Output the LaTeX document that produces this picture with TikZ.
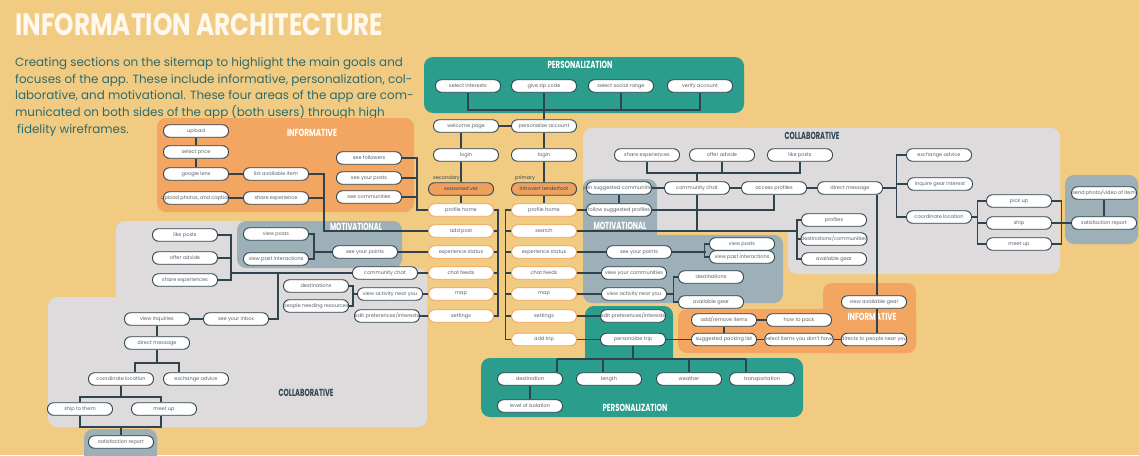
\documentclass[tikz,border=0pt]{standalone}
\usepackage{fontspec}
\setmainfont{Poppins}
\definecolor{fundo}{HTML}{F2CB82}
\definecolor{laranja}{HTML}{F3A562}
\definecolor{laranjano}{HTML}{EFA05E}
\definecolor{bordalar}{HTML}{F0A458}
\definecolor{verde}{HTML}{2A9D8D}
\definecolor{cinza}{HTML}{DDDBDC}
\definecolor{azul}{HTML}{9EB0B7}
\definecolor{linha}{HTML}{2F444F}
\definecolor{textocx}{HTML}{5A5F64}
\definecolor{titulo}{HTML}{FFF8EC}
\definecolor{paragrafo}{HTML}{2D6A6C}
\newcommand{\rotulo}[2]{\resizebox{#1}{7.3pt}{\bfseries #2}}
\begin{document}
\begin{tikzpicture}[x=1pt,y=-1pt,
  caixa/.style={draw=linha, line width=0.9pt, fill=white, rounded corners=6pt,
    minimum width=65pt, minimum height=12.5pt, inner sep=0pt, text=textocx,
    font=\fontsize{5}{6}\selectfont},
  caixalar/.style={caixa, draw=bordalar},
  caixacheia/.style={caixa, fill=laranjano, text=linha},
  painel/.style={rounded corners=9pt}]
	%Fundo
\useasboundingbox (0,0) rectangle (1139,455);
\fill[fundo] (0,0) rectangle (1139,455);
	%Titulo e texto
\node[anchor=south west, inner sep=0pt, text=titulo] (title) at (15,36) {\resizebox{368pt}{22pt}{\bfseries INFORMATION ARCHITECTURE}};
\node[anchor=north west, inner sep=0pt, align=left, text=paragrafo, font=\fontsize{11.9}{16.8}\selectfont] (intro) at (15,57)
  {Creating sections on the sitemap to highlight the main goals and\\
   focuses of the app. These include informative, personalization, col-\\
   laborative, and motivational. These four areas of the app are com-\\
   municated on both sides of the app (both users) through high\\
   \hspace*{2pt}fidelity wireframes.};
	%Paineis
\fill[laranja, painel] (157,118) rectangle (414,212);
\fill[verde, painel] (424,57) rectangle (744,113);
\fill[cinza, painel] (583,128) rectangle (1060,232);
\fill[cinza, painel] (788,128) rectangle (1060,274);
\fill[cinza, painel] (116,221) rectangle (390,427);
\fill[cinza, painel] (116,268) rectangle (427,427);
\fill[cinza, painel] (48,297) rectangle (427,427);
\fill[azul, painel] (237,221) rectangle (402,268);
\fill[azul, painel] (583,179) rectangle (657,250);
\fill[azul, painel] (583,235) rectangle (783,303);
\fill[azul, painel] (1065,175) rectangle (1138,244);
\fill[azul, painel] (84,429) rectangle (157,470);
\fill[verde, painel] (585,306) rectangle (673,370);
\fill[verde, painel] (481,358) rectangle (803,417);
\fill[laranja, painel] (678,309) rectangle (916,353);
\fill[laranja, painel] (823,283) rectangle (916,353);
	%Rotulos
\node[text=white] (infoL) at (312,133) {\rotulo{50pt}{INFORMATIVE}};
\node[text=white] (persT) at (580,65) {\rotulo{65pt}{PERSONALIZATION}};
\node[text=linha] (collR) at (812,136) {\rotulo{55pt}{COLLABORATIVE}};
\node[text=white] (motR) at (620,226) {\rotulo{53pt}{MOTIVATIONAL}};
\node[text=white] (motL) at (356,227) {\rotulo{52pt}{MOTIVATIONAL}};
\node[text=linha] (collL) at (306,393) {\rotulo{55pt}{COLLABORATIVE}};
\node[text=white] (persB) at (635,408) {\rotulo{65pt}{PERSONALIZATION}};
\node[text=white] (infoR) at (872,317) {\rotulo{49pt}{INFORMATIVE}};
\node[anchor=west, inner sep=0pt, text=linha, font=\fontsize{5}{6}\selectfont] (sec) at (433,178.5) {secondary};
\node[anchor=west, inner sep=0pt, text=linha, font=\fontsize{5}{6}\selectfont] (prim) at (515,178.5) {primary};
	%Informativo
\node[caixa] (upl) at (196,131) {upload};
\node[caixa] (price) at (196,152) {select price};
\node[caixa] (lens) at (196,174) {google lens};
\node[caixa] (photos) at (196,198) {\makebox[58pt]{upload photos, and caption}};
\node[caixa] (listitem) at (276,174) {list available item};
\node[caixa] (shareexp) at (276,198) {share experience};
\node[caixa] (followers) at (369,158) {see followers};
\node[caixa] (yourposts) at (369,178) {see your posts};
\node[caixa] (communities) at (369,197) {see communities};
	%Personalizacao
\node[caixa] (interests) at (468,86) {select interests};
\node[caixa] (zip) at (544,86) {give zip code};
\node[caixa] (social) at (621,86) {select social range};
\node[caixa] (verify) at (700,86) {verify account};
\node[caixa] (welcome) at (466,126) {welcome page};
\node[caixa] (persacc) at (544,126) {personalize account};
\node[caixa] (loginS) at (466,155) {login};
\node[caixa] (loginP) at (544,155) {login};
\node[caixacheia] (vet) at (461,189) {seasoned vet};
\node[caixacheia] (tender) at (544,189) {introvert tenderfoot};
	%Colunas
\node[caixalar] (homeS) at (461,210) {profile home};
\node[caixalar] (addpost) at (461,231) {add post};
\node[caixalar] (expS) at (461,252) {experience status};
\node[caixalar] (chatS) at (461,273) {chat feeds};
\node[caixalar] (mapS) at (461,294) {map};
\node[caixalar] (setS) at (461,316) {settings};
\node[caixalar] (homeP) at (544,210) {profile home};
\node[caixalar] (search) at (544,231) {search};
\node[caixalar] (expP) at (544,252) {experience status};
\node[caixalar] (chatP) at (544,273) {chat feeds};
\node[caixalar] (mapP) at (544,294) {map};
\node[caixalar] (setP) at (544,316) {settings};
\node[caixalar] (addtrip) at (544,339.5) {add trip};
	%Colaborativo direita
\node[caixa] (shareexpR) at (647,155) {share experiences};
\node[caixa] (offerR) at (722,155) {offer advide};
\node[caixa] (likeR) at (800,155) {like posts};
\node[caixa] (joincomm) at (619,188) {\makebox[58pt]{join suggested communities}};
\node[caixa] (chatR) at (697,188) {community chat};
\node[caixa] (profacc) at (774,188) {access profiles};
\node[caixa] (dmR) at (850,188) {direct message};
\node[caixa] (followprof) at (619,210) {follow suggested profiles};
\node[caixa] (profiles) at (834,220) {profiles};
\node[caixa] (destcomm) at (834,239) {destinations/communities};
\node[caixa] (gearR) at (834,259) {available gear};
\node[caixa] (exadvR) at (939,155) {exchange advice};
\node[caixa] (inquire) at (940,184) {inquire gear interest};
\node[caixa] (coordR) at (939,217) {coordinate location};
\node[caixa] (pickup) at (1019,201) {pick up};
\node[caixa] (ship) at (1019,223) {ship};
\node[caixa] (meetR) at (1019,244) {meet up};
\node[caixa] (sendphoto) at (1104,193) {send photo/video of item};
\node[caixa] (satisR) at (1104,223) {satisfaction report};
	%Motivacional direita
\node[caixa] (pointsR) at (639,252) {see your points};
\node[caixa] (postsR) at (742,244) {view posts};
\node[caixa] (pastR) at (742,257) {view past interactions};
\node[caixa] (yourcomm) at (634,273) {view your communities};
\node[caixa] (activityR) at (634,294) {view activity near you};
\node[caixa] (destR) at (711,277) {destinations};
\node[caixa] (gearM) at (711,302) {available gear};
	%Personalizacao baixo
\node[caixa] (prefR) at (633,316) {edit preferences/interests};
\node[caixa] (perstrip) at (633,339.5) {personalize trip};
\node[caixa] (dest) at (530,379) {destination};
\node[caixa] (length) at (609,379) {length};
\node[caixa] (weather) at (689,379) {weather};
\node[caixa] (transp) at (762,379) {transportation};
\node[caixa] (isolation) at (530,406) {level of isolation};
	%Informativo direita
\node[caixa] (viewgear) at (874,302) {view available gear};
\node[caixa] (addremove) at (724,320) {add/remove items};
\node[caixa] (howpack) at (799,320) {how to pack};
\node[caixa] (packlist) at (724,339.5) {suggested packing list};
\node[caixa] (selectitems) at (799,339.5) {select items you don't have};
\node[caixa] (directs) at (874,339.5) {directs to people near you};
	%Motivacional esquerda
\node[caixa] (postsL) at (276,234) {view posts};
\node[caixa] (pastL) at (276,259) {view past interactions};
\node[caixa] (pointsL) at (365,252) {see your points};
	%Colaborativo esquerda
\node[caixa] (likeL) at (185,235) {like posts};
\node[caixa] (offerL) at (185,258) {offer advide};
\node[caixa] (shareL) at (185,280) {share experiences};
\node[caixa] (chatL) at (385,273) {community chat};
\node[caixa] (destL) at (316,286) {destinations};
\node[caixa] (needL) at (316,306) {people needing resources};
\node[caixa] (activityL) at (390,294) {view activity near you};
\node[caixa] (prefL) at (387,316) {edit preferences/interests};
\node[caixa] (inquiries) at (157,319) {view inquiries};
\node[caixa] (inbox) at (236,319) {see your inbox};
\node[caixa] (dmL) at (157,343) {direct message};
\node[caixa] (coordL) at (121,379) {coordinate location};
\node[caixa] (exadvL) at (196,379) {exchange advice};
\node[caixa] (shipthem) at (80,409) {ship to them};
\node[caixa] (meetL) at (164,409) {meet up};
\node[caixa] (satisL) at (121,442) {satisfaction report};
	%Pontos das ligacoes
\coordinate (pbus) at (0,110);
\coordinate (cbus) at (0,173);
\coordinate (brk) at (797,0);
\coordinate (dmdrop) at (877,0);
\coordinate (tbus) at (0,359);
\coordinate (lbrk) at (231,0);
\coordinate (ibx) at (278,0);
\coordinate (dbus) at (0,363);
\coordinate (sbus) at (0,397);
	%Ligacoes
\begin{scope}[draw=linha, line width=1.1pt]
\draw (upl) -- (price) -- (lens);
\draw (lens) -- (listitem);
\draw (photos) -- (shareexp);
\draw (listitem.east) -- ++(15,0) |- (addpost.west);
\draw (shareexp.east) -- ++(15,0);
\draw (followers.east) -- ++(15,0) |- (homeS.west);
\draw (yourposts.east) -- ++(15,0);
\draw (communities.east) -- ++(15,0);
\draw (interests.south) |- (verify.south |- pbus) -- (verify.south);
\draw (social) -- (social |- pbus);
\draw (zip) -- (persacc);
\draw (welcome) -- (persacc);
\draw (welcome.south -| vet) -- (loginS.north -| vet);
\draw (loginS.south -| vet) -- (vet);
\draw (vet) -- (homeS);
\draw (persacc) -- (loginP) -- (tender) -- (homeP);
\draw (homeS.east) -- ++(4,0) |- (setS.east);
\foreach \n in {addpost,expS,chatS,mapS} \draw (\n.east) -- ++(4,0);
\draw (homeP.west) -- ++(-6,0) |- (addtrip.west);
\foreach \n in {search,expP,chatP,mapP,setP} \draw (\n.west) -- ++(-6,0);
\draw (pointsL) -- (expS);
\draw (chatL) -- (chatS);
\draw (activityL) -- (mapS);
\draw (prefL) -- (setS);
\draw (homeP) -- (followprof);
\draw (search.east) -- (search.east -| brk);
\draw (expP) -- (pointsR);
\draw (chatP) -- (yourcomm);
\draw (mapP) -- (activityR);
\draw (setP) -- (prefR);
\draw (addtrip) -- (perstrip);
	%colaborativo direita
\draw (shareexpR.south) |- (likeR.south |- cbus) -- (likeR.south);
\draw (offerR) -- (offerR |- cbus);
\draw (chatR) -- (chatR |- cbus);
\draw (joincomm) -- (chatR);
\draw (joincomm) -- (followprof);
\draw (chatR) -- (profacc);
\draw (profacc) -- (dmR);
\draw (profacc.south) |- (followprof.east);
\draw (chatR.south) -- (chatR.south |- search.east);
\draw (profiles.west) -| (brk |- gearR.west) -- (gearR.west);
\draw (destcomm.west) -- (destcomm.west -| brk);
\draw (dmR.east) -- ++(13.5,0);
\draw (exadvR.west) -- ++(-10,0) |- (coordR.west);
\draw (inquire.west) -- ++(-11,0);
\draw (coordR.east) -- ++(6,0);
\draw (pickup.west) -- ++(-8.5,0) |- (meetR.west);
\draw (ship.west) -- ++(-8.5,0);
\draw (pickup.east) -- ++(9.5,0) |- (meetR.east);
\draw (ship) -- (satisR);
\draw (sendphoto) -- (satisR);
\draw (dmR.south -| dmdrop) -- (viewgear.north -| dmdrop);
\draw (viewgear.south -| dmdrop) -- (directs.north -| dmdrop);
	%motivacional direita
\draw (pointsR.east) -- ++(34,0);
\draw (postsR.west) -- ++(-5,0) |- (pastR.west);
\draw (activityR.east) -- ++(7.5,0);
\draw (destR.west) -- ++(-5,0) |- (gearM.west);
	%personalizacao baixo
\draw (perstrip) -- (perstrip |- tbus);
\draw (tbus -| 557,0) -- (tbus -| 746,0);
\foreach \x/\n in {557/dest,603/length,689/weather,746/transp} \draw (tbus -| \x,0) -- (\n.north -| \x,0);
\draw (dest) -- (isolation);
	%informativo direita
\draw (addremove) -- (howpack);
\draw (addremove) -- (packlist);
\draw (perstrip) -- (packlist);
\draw (packlist) -- (selectitems) -- (directs);
	%motivacional esquerda
\draw (postsL.east) -- ++(5,0) |- (pastL.east);
\draw (pointsL.west) -- ++(-19.5,0);
	%colaborativo esquerda
\draw (likeL.east) -| (lbrk |- shareL.east) -- (shareL.east);
\draw (offerL.east) -- (offerL.east -| lbrk);
\draw (chatL.west) -- (chatL.west -| lbrk);
\draw (inbox.east) -| (ibx |- chatL.west);
\draw (inquiries) -- (inbox);
\draw (destL.east) -- ++(4,0) |- (needL.east);
\draw (activityL.west) -- ++(-5,0);
\draw (inquiries) -- (dmL);
\draw (dmL) -- (dmL |- dbus);
\draw (coordL.north -| 135,0) |- (dbus -| 179,0) -- (exadvL.north -| 179,0);
\draw (coordL) -- (coordL |- sbus);
\draw (shipthem.north) |- (sbus -| 161,0) -- (meetL.north -| 161,0);
\draw (shipthem.south) |- (161,427) -- (meetL.south -| 161,0);
\draw (satisL) -- (satisL |- 0,427);
\end{scope}
\end{tikzpicture}
\end{document}
